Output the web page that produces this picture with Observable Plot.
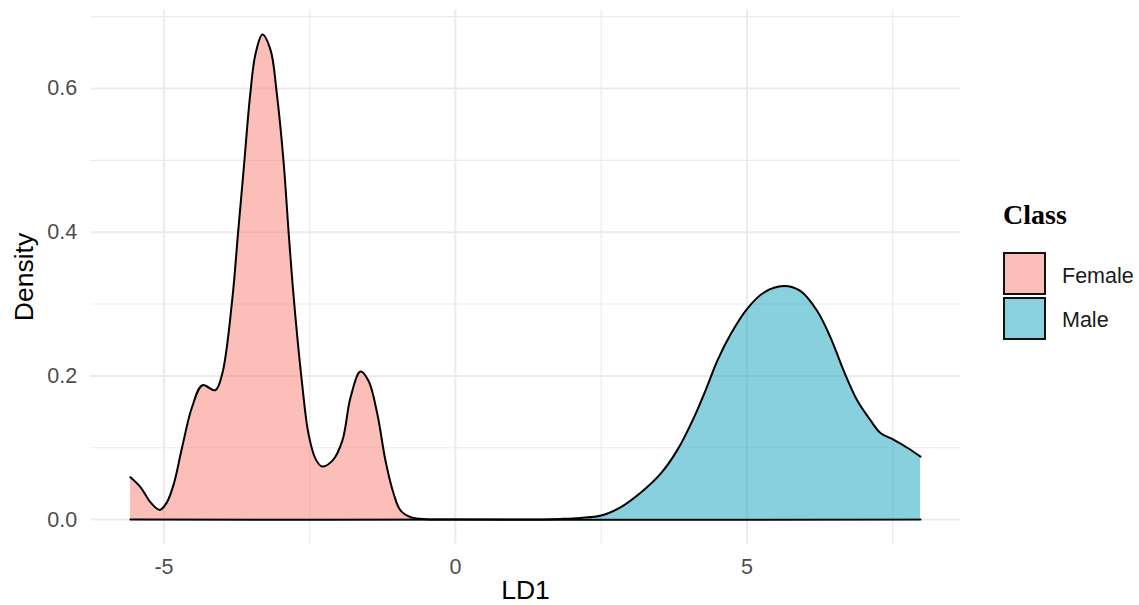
<!DOCTYPE html>
<html>
<head>
<meta charset="utf-8">
<script src="https://cdn.jsdelivr.net/npm/d3@7"></script>
<script src="https://cdn.jsdelivr.net/npm/@observablehq/plot@0.6"></script>
<style>
  html, body { margin: 0; padding: 0; background: #fff; }
  #wrap { position: relative; width: 1139px; height: 605px; overflow: hidden; }
  #wrap svg g[aria-label$="tick label"] { font-size: 21.5px; }
  #legend { position: absolute; left: 0; top: 0; width: 1139px; height: 605px; pointer-events: none; }
  .lg-title { position: absolute; left: 1003px; top: 198px; font-family: "Liberation Serif", "Times New Roman", serif; font-weight: bold; font-size: 28px; line-height: 34px; color: #000; }
  .lg-key { position: absolute; left: 1003px; width: 39px; height: 39px; border: 2px solid #111; box-sizing: content-box; }
  .lg-lab { position: absolute; left: 1062px; font-family: "Liberation Sans", Arial, sans-serif; font-size: 21.5px; line-height: 26px; color: #1a1a1a; }
</style>
</head>
<body>
<div id="wrap"><div id="legend"></div></div>
<script>
// ---- data (density of LD1 by Class) ----
const classes = ["Female", "Male"];
const classColors = ["#F87D72", "#14A2BE"];

const femaleX = [-5.575, -5.40, -5.23, -5.07, -4.95, -4.83, -4.69, -4.52, -4.34, -4.12, -4.00, -3.83, -3.73, -3.63, -3.52, -3.43, -3.31, -3.17, -3.07, -2.95, -2.86, -2.77, -2.63, -2.52, -2.40, -2.29, -2.11, -1.94, -1.80, -1.63, -1.49, -1.34, -1.20, -1.06, -0.94, -0.75, -0.50, 0.0, 7.976];
const femaleY = [0.059, 0.045, 0.024, 0.0135, 0.024, 0.050, 0.100, 0.156, 0.187, 0.180, 0.203, 0.305, 0.398, 0.490, 0.592, 0.648, 0.675, 0.653, 0.597, 0.500, 0.398, 0.305, 0.189, 0.119, 0.0845, 0.074, 0.082, 0.110, 0.170, 0.206, 0.193, 0.147, 0.082, 0.036, 0.0125, 0.003, 0.0006, 0.0, 0.0];

const maleX = [-5.575, 1.0, 1.5, 1.80, 2.14, 2.50, 2.83, 3.17, 3.52, 3.80, 4.09, 4.32, 4.49, 4.72, 5.00, 5.29, 5.63, 5.92, 6.20, 6.43, 6.66, 6.89, 7.12, 7.29, 7.52, 7.75, 7.976];
const maleY = [0.0, 0.0, 0.0003, 0.001, 0.0024, 0.0056, 0.017, 0.037, 0.064, 0.096, 0.142, 0.186, 0.221, 0.258, 0.293, 0.316, 0.325, 0.318, 0.291, 0.254, 0.207, 0.166, 0.138, 0.1205, 0.111, 0.100, 0.0877];

const xMajor = [-5, 0, 5];
const xMinor = [-2.5, 2.5, 7.5];
const yMajor = [0, 0.2, 0.4, 0.6];
const yMinor = [0.1, 0.3, 0.5, 0.7];

const xTitle = "LD1";
const yTitle = "Density";
const legendTitle = "Class";

// ---- build tables ----
const female = femaleX.map((x, i) => ({x, y: femaleY[i], cls: classes[0]}));
const male = maleX.map((x, i) => ({x, y: maleY[i], cls: classes[1]}));

const grid = "#EBEBEB";
const axisText = "#4D4D4D";
const curve = "catmull-rom";

const chart = Plot.plot({
  width: 1139,
  height: 605,
  marginLeft: 90.4,
  marginRight: 179.5,
  marginTop: 9.6,
  marginBottom: 61.6,
  style: {fontFamily: "'Liberation Sans', Arial, sans-serif", fontSize: "21.5px", background: "#fff"},
  x: {domain: [-6.253, 8.654]},
  y: {domain: [-0.0338, 0.709]},
  marks: [
    Plot.gridY(yMinor, {stroke: grid, strokeOpacity: 1, strokeWidth: 1.2}),
    Plot.gridX(xMinor, {stroke: grid, strokeOpacity: 1, strokeWidth: 1.2}),
    Plot.gridY(yMajor, {stroke: grid, strokeOpacity: 1, strokeWidth: 2}),
    Plot.gridX(xMajor, {stroke: grid, strokeOpacity: 1, strokeWidth: 2}),
    Plot.areaY(female, {x: "x", y: "y", fill: classColors[0], fillOpacity: 0.5, curve}),
    Plot.lineY(female, {x: "x", y: "y", stroke: "#000", strokeWidth: 2, curve}),
    Plot.areaY(male, {x: "x", y: "y", fill: classColors[1], fillOpacity: 0.5, curve}),
    Plot.lineY(male, {x: "x", y: "y", stroke: "#000", strokeWidth: 2, curve}),
    Plot.axisX(xMajor, {tickSize: 0, tickPadding: 14.5, fontSize: 21.5, color: axisText, label: null, tickFormat: d => String(d)}),
    Plot.axisY(yMajor, {tickSize: 0, tickPadding: 13.7, fontSize: 21.5, color: axisText, label: null, tickFormat: d3.format(".1f")}),
    Plot.text([xTitle], {frameAnchor: "bottom", textAnchor: "middle", lineAnchor: "middle", dy: 46.5, fontSize: 26.5, fill: "#000", text: d => d}),
    Plot.text([yTitle], {frameAnchor: "left", textAnchor: "middle", lineAnchor: "middle", dx: -66.5, rotate: -90, fontSize: 26.5, fill: "#000", text: d => d})
  ]
});

const wrap = document.getElementById("wrap");
wrap.insertBefore(chart, wrap.firstChild);

// ---- legend (to the right of the panel) ----
const legend = document.getElementById("legend");
const t = document.createElement("div");
t.className = "lg-title";
t.textContent = legendTitle;
legend.appendChild(t);
const mix = (hex) => { const c = d3.rgb(hex); return d3.rgb((c.r + 255) / 2, (c.g + 255) / 2, (c.b + 255) / 2).formatHex(); };
classes.forEach((c, i) => {
  const k = document.createElement("div");
  k.className = "lg-key";
  k.style.top = (252 + i * 45) + "px";
  k.style.background = mix(classColors[i]);
  legend.appendChild(k);
  const l = document.createElement("div");
  l.className = "lg-lab";
  l.style.top = (262.5 + i * 44) + "px";
  l.textContent = c;
  legend.appendChild(l);
});
</script>
</body>
</html>
